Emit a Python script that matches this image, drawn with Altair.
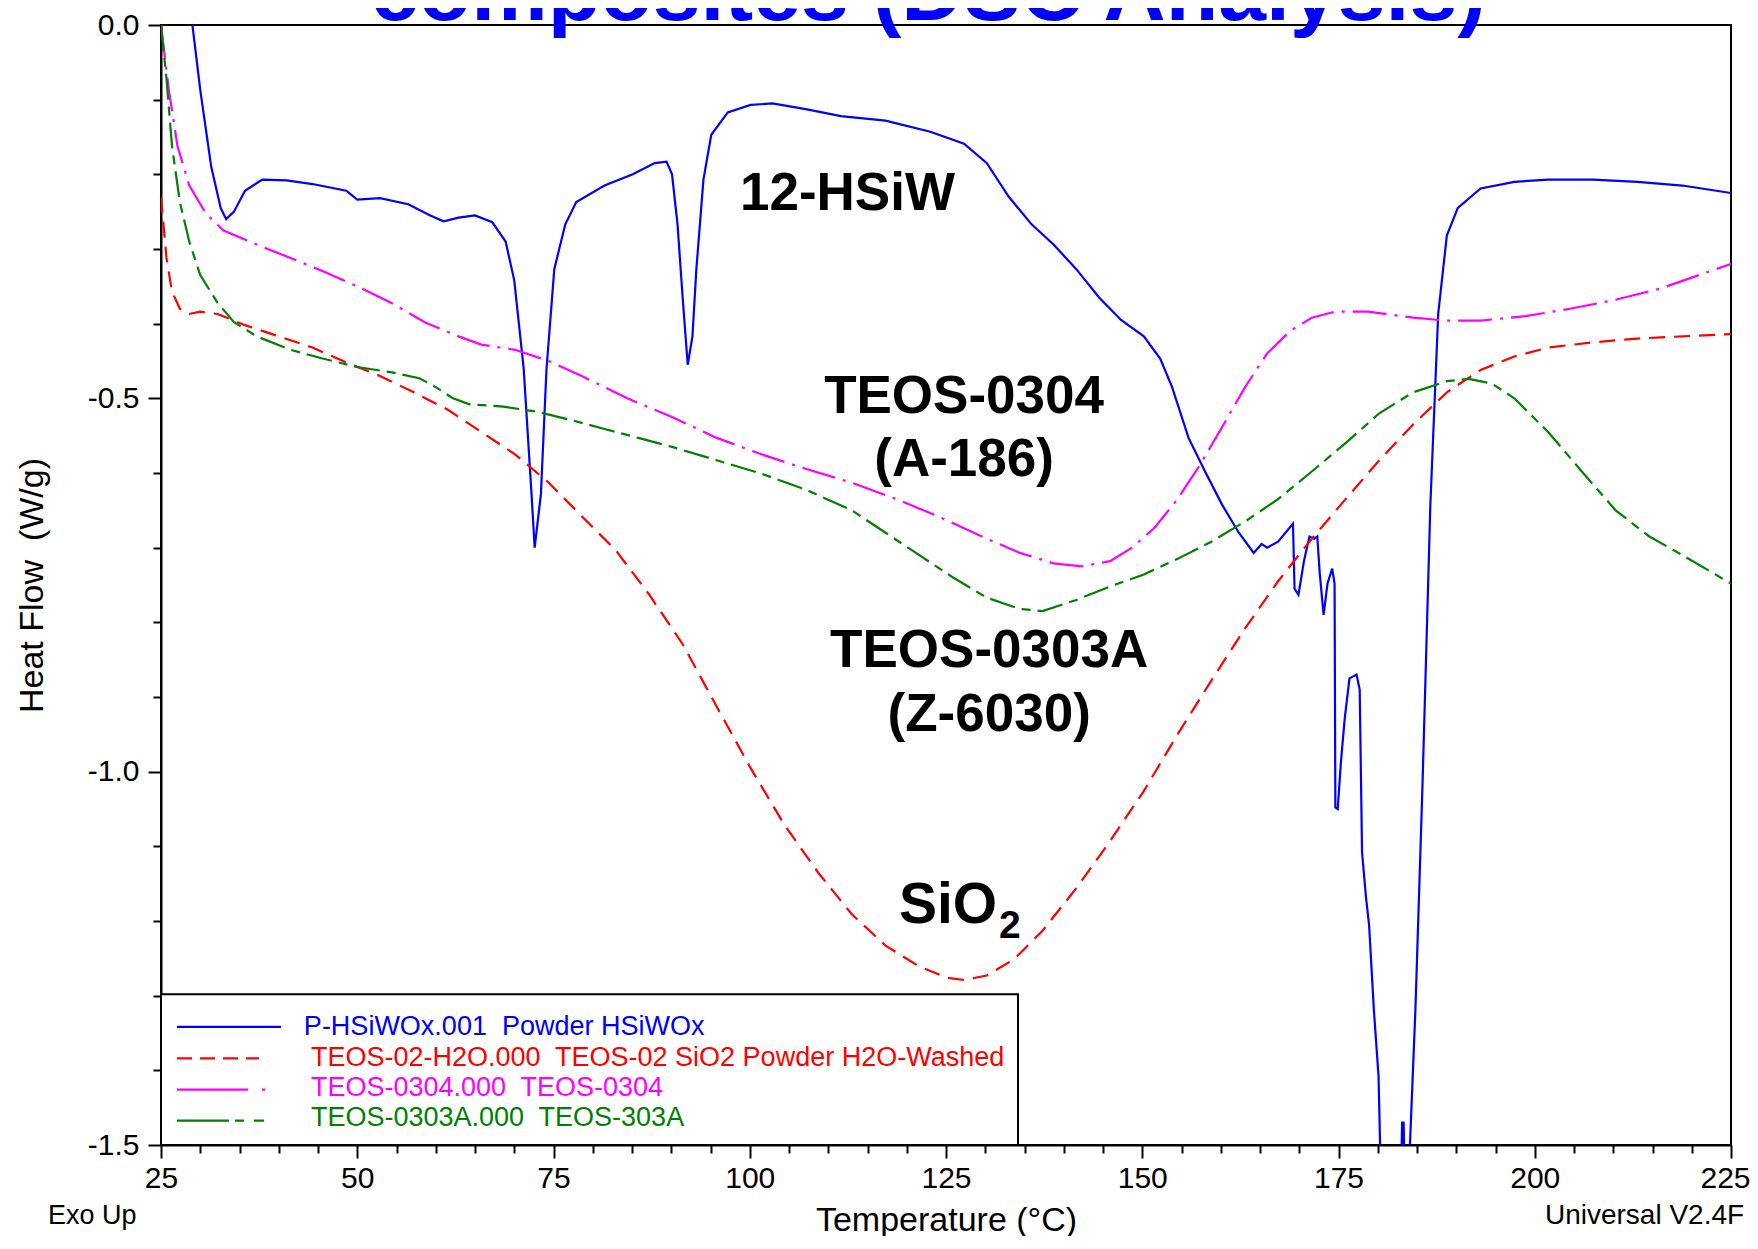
import altair as alt
import pandas as pd

# ---------------- data ----------------
blue_T = [28.6, 29.0, 30.0, 31.4, 32.6, 33.3, 34.3, 35.7, 37.9, 41.0, 44.3, 48.6, 50.0, 52.9, 56.5, 59.3,
          61.0, 62.9, 65.0, 67.2, 68.9, 70.0, 71.2, 72.2, 72.6, 73.4, 74.1, 75.1, 76.5, 77.9, 81.5, 85.1,
          87.9, 89.4, 90.1, 90.8, 91.5, 92.1, 92.7, 93.2, 94.1, 95.1, 97.2, 100.1, 102.9, 107.3, 111.6,
          117.3, 123.0, 127.3, 130.2, 133.0, 135.9, 138.7, 141.6, 144.5, 147.3, 150.2, 152.3, 153.8, 155.9,
          158.0, 160.2, 162.3, 164.2, 165.2, 165.9, 167.3, 168.8, 169.2, 169.4, 169.9, 170.6, 171.3, 171.9,
          172.3, 172.6, 173.1, 173.6, 174.2, 174.5, 174.6, 174.9, 175.3, 175.8, 176.4, 177.3, 177.7, 178.0,
          178.5, 178.9, 179.5, 180.1, 180.3, 180.6, 182.9, 183.1, 183.3, 183.5, 183.9, 184.1, 184.8, 185.7,
          186.7, 187.7, 188.8, 190.2, 193.1, 197.4, 201.7, 207.4, 213.1, 218.8, 225.0]
blue_H = [0.05, 0.0, -0.087, -0.19, -0.245, -0.26, -0.25, -0.222, -0.207, -0.208, -0.213, -0.222, -0.234,
          -0.232, -0.24, -0.255, -0.263, -0.258, -0.255, -0.264, -0.29, -0.342, -0.46, -0.628, -0.70, -0.628,
          -0.462, -0.327, -0.267, -0.237, -0.215, -0.20, -0.185, -0.183, -0.2, -0.267, -0.372, -0.455, -0.417,
          -0.327, -0.207, -0.147, -0.117, -0.107, -0.105, -0.113, -0.122, -0.128, -0.143, -0.159, -0.185,
          -0.23, -0.267, -0.294, -0.327, -0.365, -0.395, -0.417, -0.447, -0.485, -0.553, -0.598, -0.643,
          -0.68, -0.707, -0.695, -0.70, -0.692, -0.673, -0.668, -0.755, -0.763, -0.718, -0.685, -0.688,
          -0.685, -0.733, -0.79, -0.748, -0.728, -0.748, -1.048, -1.05, -0.988, -0.928, -0.875, -0.87, -0.89,
          -1.108, -1.168, -1.206, -1.318, -1.408, -1.5, -1.6, -1.6, -1.47, -1.47, -1.6, -1.6, -1.5, -1.318,
          -1.018, -0.643, -0.387, -0.282, -0.245, -0.219, -0.21, -0.207, -0.207, -0.21, -0.215, -0.225]

red_T = [25.0, 25.7, 26.4, 27.4, 28.6, 30.0, 32.2, 35.7, 40.0, 44.3, 48.6, 52.9, 57.2, 61.5, 65.8, 70.1,
         74.4, 78.6, 82.9, 87.2, 91.5, 95.8, 100.1, 104.4, 108.7, 113.0, 117.3, 121.6, 125.1, 127.3, 130.2,
         133.7, 137.3, 141.6, 145.9, 150.2, 154.5, 158.8, 163.1, 167.3, 171.6, 175.9, 180.2, 184.5, 188.8,
         193.1, 197.4, 201.7, 207.4, 213.1, 218.8, 225.0]
red_H = [-0.23, -0.312, -0.357, -0.38, -0.387, -0.384, -0.387, -0.402, -0.417, -0.432, -0.452, -0.47, -0.492,
         -0.515, -0.545, -0.575, -0.613, -0.658, -0.703, -0.763, -0.83, -0.913, -0.995, -1.071, -1.135,
         -1.191, -1.233, -1.261, -1.276, -1.279, -1.273, -1.251, -1.213, -1.156, -1.093, -1.026, -0.95,
         -0.878, -0.808, -0.745, -0.688, -0.635, -0.583, -0.535, -0.492, -0.462, -0.444, -0.432, -0.425,
         -0.42, -0.417, -0.414]

mag_T = [25.0, 26.0, 27.1, 28.6, 30.7, 32.9, 37.2, 41.5, 45.7, 50.0, 54.3, 58.6, 62.9, 65.8, 70.1, 74.4,
         78.6, 84.4, 90.1, 95.8, 101.5, 107.3, 113.0, 118.7, 124.4, 130.2, 134.4, 138.7, 142.3, 145.9,
         148.7, 151.6, 154.5, 157.3, 160.2, 163.1, 165.9, 168.8, 171.6, 174.5, 178.8, 184.5, 188.8, 193.1,
         198.8, 204.5, 210.3, 216.0, 221.7, 225.0]
mag_H = [0.0, -0.087, -0.162, -0.215, -0.252, -0.275, -0.294, -0.312, -0.33, -0.35, -0.372, -0.398, -0.417,
         -0.428, -0.435, -0.45, -0.47, -0.5, -0.525, -0.553, -0.575, -0.595, -0.613, -0.635, -0.66, -0.688,
         -0.707, -0.721, -0.725, -0.718, -0.7, -0.673, -0.635, -0.59, -0.538, -0.485, -0.44, -0.41, -0.392,
         -0.384, -0.384, -0.392, -0.396, -0.396, -0.39, -0.38, -0.368, -0.353, -0.332, -0.32]

grn_T = [25.0, 25.7, 26.4, 27.4, 28.6, 30.0, 32.2, 34.3, 37.2, 41.5, 45.7, 50.0, 54.3, 57.9, 60.0, 62.2,
         64.3, 68.6, 72.9, 77.2, 81.5, 85.8, 90.1, 95.8, 101.5, 107.3, 113.0, 117.3, 121.6, 125.9, 130.2,
         134.4, 137.3, 141.6, 145.9, 150.2, 154.5, 158.8, 163.1, 167.3, 171.6, 175.9, 180.2, 184.5, 188.8,
         191.6, 194.5, 197.4, 201.7, 206.0, 210.3, 214.6, 218.8, 225.0]
grn_H = [0.0, -0.072, -0.162, -0.237, -0.29, -0.335, -0.372, -0.398, -0.417, -0.435, -0.447, -0.458, -0.465,
         -0.473, -0.485, -0.5, -0.508, -0.511, -0.518, -0.529, -0.541, -0.553, -0.565, -0.583, -0.601, -0.623,
         -0.65, -0.68, -0.71, -0.74, -0.767, -0.782, -0.785, -0.77, -0.752, -0.736, -0.715, -0.692, -0.665,
         -0.635, -0.598, -0.56, -0.52, -0.492, -0.477, -0.474, -0.48, -0.5, -0.545, -0.598, -0.65, -0.685,
         -0.71, -0.748]

legend_texts = ["P-HSiWOx.001\u00a0 Powder HSiWOx",
                "TEOS-02-H2O.000\u00a0 TEOS-02 SiO2 Powder H2O-Washed",
                "TEOS-0304.000\u00a0 TEOS-0304",
                "TEOS-0303A.000\u00a0 TEOS-303A"]
series_colors = ["#0000FF", "#FF0000", "#FF00FF", "#008000"]
curve_labels = ["12-HSiW", "TEOS-0304", "(A-186)", "TEOS-0303A", "(Z-6030)"]
title_text = "composites (DSC Analysis)"
footer_left = "Exo Up"
footer_right = "Universal V2.4F TA Instruments"

x_major = [25, 50, 75, 100, 125, 150, 175, 200, 225]
x_minor = [v for v in range(25, 226, 5) if v % 25 != 0]
y_major = [0.0, -0.5, -1.0, -1.5]
y_minor = [-0.1, -0.2, -0.3, -0.4, -0.6, -0.7, -0.8, -0.9, -1.1, -1.2, -1.3, -1.4]

# ---------------- layout / style ----------------
FONT = "Liberation Sans"
W, H = 1570, 1120
PAD = {"left": 153, "top": 17, "right": 19, "bottom": 91}
LW = 2.2

xscale = alt.Scale(domain=[25, 225], nice=False, zero=False)
yscale = alt.Scale(domain=[-1.5, 0], nice=False, zero=False)

common_axis = dict(grid=False, domainColor="black", domainWidth=2, tickColor="black", tickWidth=2,
                   labelColor="black", titleColor="black", labelFont=FONT, titleFont=FONT,
                   titleFontWeight="normal", labelOverlap=False)

xaxis = alt.Axis(values=x_major, format="d", orient="bottom", title="Temperature (°C)",
                 labelFontSize=30, titleFontSize=34, tickSize=13, labelPadding=5, titlePadding=10,
                 labelFlush=False,
                 labelOffset={"condition": {"test": "datum.value == 225", "value": -6}, "value": 0},
                 **common_axis)
yaxis = alt.Axis(values=y_major, orient="left", title="Heat Flow\u00a0 (W/g)",
                 labelExpr="replace(format(datum.value, '.1f'), '\u2212', '-')",
                 labelFontSize=30, titleFontSize=34, tickSize=13, labelPadding=9, titlePadding=38,
                 labelFlush=False, **common_axis)


def X(f="T"):
    return alt.X(f"{f}:Q", scale=xscale, axis=xaxis)


def Y(f="H"):
    return alt.Y(f"{f}:Q", scale=yscale, axis=yaxis)


def curve(T, Hv, color, dash=None):
    df = pd.DataFrame({"T": T, "H": Hv, "i": range(len(T))})
    kw = dict(color=color, strokeWidth=LW, clip=True)
    if dash:
        kw["strokeDash"] = dash
    return alt.Chart(df).mark_line(**kw).encode(x=X(), y=Y(), order=alt.Order("i:Q"))


def text_layer(T, Hv, txt, size, bold=False, align="center", color="black"):
    df = pd.DataFrame({"T": T, "H": Hv, "txt": txt})
    kw = dict(font=FONT, fontSize=size, align=align, baseline="alphabetic", color=color)
    if bold:
        kw["fontWeight"] = "bold"
    return alt.Chart(df).mark_text(**kw).encode(x=X(), y=Y(), text="txt:N")


# legend box
box = alt.Chart(pd.DataFrame({"T": [25], "T2": [134.17], "H": [-1.5], "H2": [-1.2982]})).mark_rect(
    fill="white", stroke="black", strokeWidth=2).encode(x=X(), x2=alt.X2("T2:Q"), y=Y(), y2=alt.Y2("H2:Q"))

curves = [
    curve(blue_T, blue_H, series_colors[0]),
    curve(red_T, red_H, series_colors[1], [16, 9]),
    curve(mag_T, mag_H, series_colors[2], [34, 8, 3, 8]),
    curve(grn_T, grn_H, series_colors[3], [26, 7, 9, 7]),
]

# legend samples
sample_y = [-1.3417, -1.3839, -1.4258, -1.4673]
sample_end = [40.29, 37.48, 38.63, 38.38]
sample_dash = [None, [15, 8], [71, 14, 3, 30], [52, 6, 9, 10, 10, 30]]
samples = []
for yv, xe, c, d in zip(sample_y, sample_end, series_colors, sample_dash):
    kw = dict(color=c, strokeWidth=LW)
    if d:
        kw["strokeDash"] = d
    samples.append(alt.Chart(pd.DataFrame({"T": [27.04], "T2": [xe], "H": [yv]})).mark_rule(**kw).encode(
        x=X(), x2=alt.X2("T2:Q"), y=Y()))

leg_df = pd.DataFrame({"T": [43.2, 44.1, 44.1, 44.1],
                       "H": [-1.3522, -1.3937, -1.4339, -1.4747],
                       "txt": legend_texts, "c": series_colors})
leg_text = alt.Chart(leg_df).mark_text(font=FONT, fontSize=27, align="left", baseline="alphabetic").encode(
    x=X(), y=Y(), text="txt:N", color=alt.Color("c:N", scale=None))

ann = text_layer([112.45, 127.3, 127.3, 130.5, 130.5],
                 [-0.2482, -0.519, -0.604, -0.860, -0.945],
                 curve_labels, 53, bold=True)
sio = text_layer([119.0], [-1.2027], ["SiO"], 57, bold=True, align="left")
sub2 = text_layer([131.75], [-1.2232], ["2"], 39, bold=True, align="left")
title = text_layer([122.76], [0.0063], [title_text], 86, bold=True, color="#0000FF")
foot_l = text_layer([10.6], [-1.6062], [footer_left], 27, align="left")
foot_r = text_layer([201.3], [-1.6062], [footer_right], 28, align="left")

main = alt.layer(box, *curves, *samples, leg_text, ann, sio, sub2, title, foot_l, foot_r)

minor_axis = dict(grid=False, labels=False, domain=False, tickSize=8, tickWidth=2, tickColor="black", title=None)
minor = alt.Chart(pd.DataFrame({"T": [25], "H": [-1.5]})).mark_point(opacity=0).encode(
    x=alt.X("T:Q", scale=xscale, axis=alt.Axis(values=x_minor, orient="bottom", **minor_axis)),
    y=alt.Y("H:Q", scale=yscale, axis=alt.Axis(values=y_minor, orient="left", **minor_axis)))

chart = alt.layer(main, minor).resolve_axis(x="independent", y="independent").properties(
    width=W, height=H, autosize=alt.AutoSizeParams(type="none"), padding=PAD
).configure(background="white", font=FONT).configure_view(stroke="black", strokeWidth=2)

chart.save("out.html", embed_options={"renderer": "svg", "actions": False})
